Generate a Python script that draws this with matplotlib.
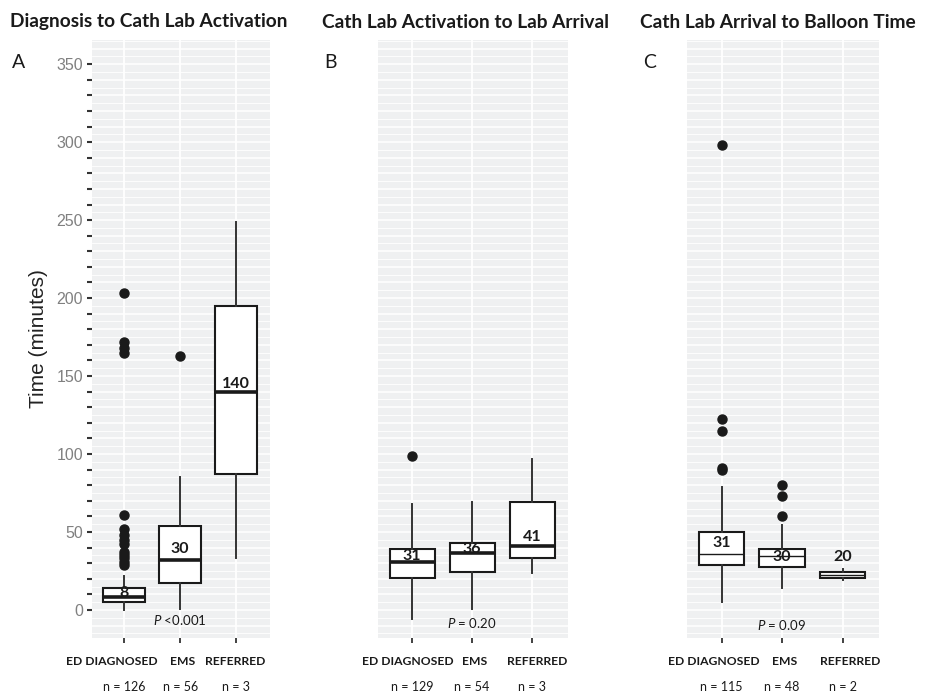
#!/usr/bin/env python
'''
three boxplot panels: time intervals by presentation group (ED diagnosed, EMS, referred)
box stats read off the published figure
'''
import matplotlib
matplotlib.use('Agg')
import matplotlib.pyplot as plt
import numpy

plt.rcParams['mathtext.fontset'] = 'custom'
plt.rcParams['mathtext.it'] = 'Lato:italic'
plt.rcParams['mathtext.rm'] = 'Lato'

groups = ['ED DIAGNOSED', 'EMS', 'REFERRED']
titles = ['Diagnosis to Cath Lab Activation', 'Cath Lab Activation to Lab Arrival',
          'Cath Lab Arrival to Balloon Time']
letters = ['A', 'B', 'C']

### panel A: diagnosis to activation
a_lo = [0, 0.5, 33]
a_q1 = [5, 17, 87]
a_med = [8, 32, 140]
a_q3 = [14, 54, 195]
a_hi = [22, 85, 249]
a_fliers = [[203, 172, 168, 165, 61, 52, 48, 45, 42, 37, 35, 33, 31, 29], [163], []]
a_labels = ['8', '30', '140']
a_label_y = [11, 39, 145]
a_n = ['n = 126', 'n = 56', 'n = 3']
a_p = '$P$ <0.001'
a_p_y = -6.5

### panel B: activation to arrival
b_lo = [-6, 0.5, 24]
b_q1 = [20.5, 24.5, 33]
b_med = [31, 36.5, 41]
b_q3 = [39, 43, 69]
b_hi = [68, 69, 97]
b_fliers = [[99], [], []]
b_labels = ['31', '36', '41']
b_label_y = [34.5, 39, 47]
b_n = ['n = 129', 'n = 54', 'n = 3']
b_p = '$P$ = 0.20'
b_p_y = -8.5

### panel C: arrival to balloon
c_lo = [5, 14, 19]
c_q1 = [29, 27.5, 20.5]
c_med = [36, 34.6, 22.4]
c_q3 = [50, 39, 24.4]
c_hi = [79, 54.5, 26]
c_fliers = [[298, 122.5, 115, 91, 90], [80, 73, 60], []]
c_labels = ['31', '30', '20']
c_label_y = [43, 34, 34]
c_n = ['n = 115', 'n = 48', 'n = 2']
c_p = '$P$ = 0.09'
c_p_y = -9.6

W, H = 927., 695.
fig = plt.figure(figsize=(W/100., H/100.), dpi=100)

def box(px_left, px_right, px_top=40., px_bot=638.):
    return [px_left/W, 1 - px_bot/H, (px_right-px_left)/W, (px_bot-px_top)/H]

panels = [
    dict(rect=box(92, 270), lo=a_lo, q1=a_q1, med=a_med, q3=a_q3, hi=a_hi, fl=a_fliers,
         lab=a_labels, laby=a_label_y, n=a_n, p=a_p, py=a_p_y, medw=2.6,
         catx=[0.79, 2.04, 2.98], title_x=10, letter_x=19),
    dict(rect=box(378, 568), lo=b_lo, q1=b_q1, med=b_med, q3=b_q3, hi=b_hi, fl=b_fliers,
         lab=b_labels, laby=b_label_y, n=b_n, p=b_p, py=b_p_y, medw=2.6,
         catx=[0.92, 2.05, 3.08], title_x=322, letter_x=330),
    dict(rect=box(687, 879), lo=c_lo, q1=c_q1, med=c_med, q3=c_q3, hi=c_hi, fl=c_fliers,
         lab=c_labels, laby=c_label_y, n=c_n, p=c_p, py=c_p_y, medw=1.0,
         catx=[0.88, 2.05, 3.13], title_x=640, letter_x=650),
]

for i, P in enumerate(panels):
    ax = fig.add_axes(P['rect'])
    ax.set_facecolor('#eff0f1')
    for s in ax.spines.values():
        s.set_visible(False)

    ### grid: white lines every 5 minutes, plus at categories
    for yy in numpy.arange(-15, 366, 5):
        lw = 1.1 if yy % 10 == 0 else 0.6
        ax.axhline(yy, color='white', lw=lw, zorder=0)
    for xx in [1, 2, 3]:
        ax.axvline(xx, color='white', lw=1.3, zorder=0)

    stats = []
    for k in range(3):
        stats.append(dict(whislo=P['lo'][k], q1=P['q1'][k], med=P['med'][k],
                          q3=P['q3'][k], whishi=P['hi'][k], fliers=P['fl'][k]))
    ax.bxp(stats, positions=[1, 2, 3], widths=0.75, patch_artist=True, showcaps=False,
           boxprops=dict(facecolor='white', edgecolor='#1a1a1a', linewidth=1.5),
           medianprops=dict(color='#1a1a1a', linewidth=P['medw']),
           whiskerprops=dict(color='#333333', linewidth=1.4),
           flierprops=dict(marker='o', markerfacecolor='#1a1a1a', markeredgecolor='#1a1a1a',
                           markersize=6.5),
           zorder=2)

    for k in range(3):
        ax.text(k+1, P['laby'][k], P['lab'][k], ha='center', va='center', fontsize=11.5,
                fontweight='bold', family='Lato', color='#1a1a1a', zorder=3)
    ax.text(2, P['py'], P['p'], ha='center', va='center', fontsize=9.5, family='Lato',
            color='#1a1a1a', zorder=3)

    ax.set_xlim(0.43, 3.6)
    ax.set_ylim(-18, 365.5)
    ax.set_xticks([1, 2, 3])
    ax.set_xticklabels([])
    ax.tick_params(axis='x', length=3.5, width=1.3, color='#333333')

    yt = numpy.arange(0, 351, 10)
    ax.set_yticks(yt)
    if i == 0:
        ax.set_yticklabels([str(v) if v % 50 == 0 else '' for v in yt], color='#808080',
                           fontsize=11.5, family='Liberation Sans')
        ax.tick_params(axis='y', length=3.5, width=1.5, color='#333333', pad=3)
        ax.set_ylabel('Time (minutes)', fontsize=15, family='Liberation Sans',
                      color='#222222', labelpad=6)
    else:
        ax.tick_params(axis='y', length=0, labelleft=False)

    trans = ax.get_xaxis_transform()
    for k in range(3):
        ax.text(P['catx'][k], -0.04, groups[k], transform=trans, ha='center', va='center',
                fontsize=8.7, fontweight='bold', family='Lato', color='#1a1a1a')
        ax.text(k+1, -0.082, P['n'][k], transform=trans, ha='center', va='center',
                fontsize=9, family='Lato', color='#1a1a1a')

    fig.text(P['title_x']/W, 1 - 22/H, titles[i], ha='left', va='center', fontsize=13.8,
             fontweight='bold', family='Lato', color='#1a1a1a')
    fig.text(P['letter_x']/W, 1 - 63/H, letters[i], ha='center', va='center', fontsize=14,
             family='Lato', fontweight='normal', color='#1a1a1a')

plt.savefig('out.png', dpi=100)
